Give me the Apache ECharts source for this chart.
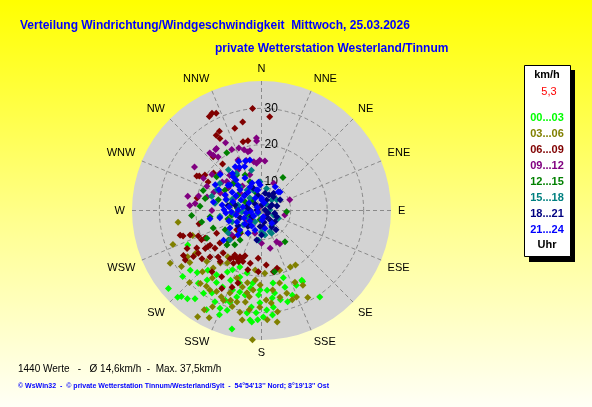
<!DOCTYPE html>
<html lang="de">
<head>
<meta charset="UTF-8">
<title>Verteilung Windrichtung/Windgeschwindigkeit</title>
<script src="https://cdn.jsdelivr.net/npm/echarts@6/dist/echarts.min.js"></script>
<style>
  html, body { margin: 0; padding: 0; }
  #chart { width: 592px; height: 407px; }
</style>
</head>
<body>
<div id="chart"></div>
<script>
// Himmelsrichtungen (Winkelachse) und Ringe (km/h)
var directions = ['N', 'NNE', 'NE', 'ENE', 'E', 'ESE', 'SE', 'SSE', 'S', 'SSW', 'SW', 'WSW', 'W', 'WNW', 'NW', 'NNW'];
var speedTicks = [10, 20, 30];
var hourLabels = ['00...03', '03...06', '06...09', '09...12', '12...15', '15...18', '18...21', '21...24'];

// Messwerte je 3-Stunden-Block: [Geschwindigkeit km/h, Richtung Grad]
var h00 = [[24.3,245],[35.3,230],[35.1,224],[34.2,223],[33.6,220],[32.3,217],[30.2,230],[27.5,230],[26.5,226],[28.4,221],[26.2,218],[29.7,215],[33.1,209],[28.4,211],[30.1,207],[31.1,203],[28.5,202],[22.9,204],[20.1,206],[18.6,201],[19.6,193],[22.7,197],[26.7,196],[28.6,199],[30.9,199],[32.8,202],[35.5,194],[32.2,186],[30.1,183],[28.6,186],[27.3,181],[29.3,177],[28.7,173],[27,168],[24.9,171],[23.9,176],[23.8,181],[22.1,187],[22.1,171],[24,163],[26.7,160],[24.6,155],[24.1,150],[28,164],[30.8,174],[31.2,179],[30.6,146],[23.5,188],[25.6,191],[25.5,207],[25.3,212],[25.2,200],[23.5,215],[24,222],[25.1,195],[25.2,182],[26.2,173],[32,182],[30.4,188],[21.4,162],[21.2,198],[21.3,209],[24.5,150],[32.7,185]];
var h03 = [[28,249],[22.1,250],[30.9,240],[28.8,235],[25.9,238],[26.3,234],[23.6,237],[22.5,227],[25.3,224],[28.1,220],[24.9,216],[22.6,220],[20.3,218],[19.2,213],[17.7,216],[28,213],[27.7,216],[27.4,209],[28.1,205],[33.4,210],[36,211],[31.6,207],[26.2,201],[29.5,197],[28,195],[30.5,192],[27.5,190],[24.9,190],[25.9,188],[23.9,186],[22.2,191],[21.1,185],[22.4,181],[18.4,186],[19.2,177],[26.6,177],[27.5,174],[30.1,171],[32,177],[28.5,181],[32.9,172],[26.3,168],[25.7,163],[27.9,161],[27.6,158],[29,152],[23.7,155],[25.4,151],[19.4,153],[19.6,148],[19.1,163],[22.5,166],[24,172],[29.4,187],[32.5,190],[37.5,184],[29.9,225],[25.1,262],[28,199],[28.7,203],[23.6,194],[21.7,200],[34.7,206]];
var h06 = [[30.1,355],[27.8,5],[31.9,333],[31.4,335],[31.5,331],[26.8,348],[25.7,342],[26.6,332],[26.1,329],[24.8,330],[21.5,345],[21.5,349],[21.8,318],[18.6,320],[22.1,298],[21.5,299],[20.3,302],[18.7,308],[18.6,298],[20,281],[19.5,258],[25.3,253],[24.6,252],[20.7,248],[20.3,244],[19,236],[18.4,231],[20.6,236],[22.5,240],[24.9,243],[26.7,240],[24.5,236],[22.9,236],[23,231],[21,228],[19.4,223],[17.7,222],[20,219],[16.9,211],[16.8,207],[16,205],[17.4,204],[16.9,200],[18.4,208],[16.8,192],[15.1,184],[17,175],[18.7,193],[18.8,183],[19.1,169],[18.4,165],[23.6,219],[23.2,211],[22.9,198],[24.5,201],[26,207],[22.7,251],[26.9,237],[16.5,232],[14.2,228],[12.6,227],[10.5,223],[15.8,243],[10.6,232],[5.7,226],[19.2,244],[19.7,236],[16.2,211],[16.1,202],[17.8,213],[15.2,200]];
var h09 = [[21.9,356],[21.1,356],[18.7,349],[19.3,344],[20.2,340],[20.6,334],[23,332],[23,324],[22.9,323],[23.2,318],[20.9,321],[17.3,335],[16.3,343],[15.8,358],[15.6,4],[15,354],[23.9,303],[18.8,306],[17.3,312],[20.2,299],[18.4,294],[22.6,281],[21.7,274],[20.3,276],[19.7,283],[10.3,69],[10.2,24],[15,318],[14.8,330],[22.1,319],[18.5,347],[15.5,351],[15.2,331],[14.7,320],[12.3,342],[3.9,151],[8.5,101],[12.6,167],[12.4,151],[8.5,196],[15.6,270],[14.4,310],[9.6,309],[14.3,293],[8.8,264],[6.8,237],[11.5,154],[11,180],[12.6,231],[3.2,338],[17.4,284],[13,304],[12.8,314],[12.8,293],[10.1,295],[10.5,322],[10.7,280],[15.3,306],[16,291]];
var h12 = [[12.8,33],[20.5,329],[17.8,282],[21.2,266],[16.2,263],[16.1,250],[12,216],[14.2,228],[12.7,143],[8.9,93],[18.9,289],[18.9,274],[17.4,307],[18.8,243],[13.9,218],[19.2,168],[15.4,225],[18.7,259],[13.3,242],[10.3,225],[10.3,261],[13.5,299],[14.2,284],[10.7,280],[7.1,298],[10.5,338],[12.7,335],[12.7,314],[4.6,189],[13.9,325],[7.4,341],[9.7,303],[5.9,252],[8.7,276],[5.8,318],[11.5,256]];
var h15 = [[3.2,229],[4.3,87],[7.1,55],[8.8,156],[8.8,172],[10.2,186],[6.2,239],[8.2,13],[9.9,357],[13.4,346],[14.3,326],[16.4,321],[15.6,303],[16.2,286],[10.8,318],[12,287],[9.8,264],[8.4,232],[7.1,115],[14.9,279],[13.5,262],[6.9,145],[7.9,180],[15.5,295],[5.5,111],[13.8,227],[9.2,210],[8.2,158],[13,236],[6,44],[8.6,283],[6.7,317],[10.6,249],[6.3,279],[8,338],[7.4,266],[5.6,210],[4.2,35],[10.6,291],[8.9,325]];
var h18 = [[7.8,35],[5.2,26],[5.2,62],[3,82],[5.7,102],[5.5,138],[7.3,148],[6.4,185],[8.7,180],[10.2,189],[7.1,218],[5.2,238],[6.2,284],[3.3,276],[6.8,12],[8.5,340],[7,41],[4.2,140],[6.8,130],[6.5,174],[7.9,60],[4.6,66],[9.4,282],[8.2,313],[5.2,273],[8.2,251],[11.3,278],[9.7,237],[6.3,347],[6.5,112],[3.5,5],[3.9,111],[6.4,74],[5.3,168],[8.6,143],[4.5,315],[7.7,221],[6.7,26]];
var h21 = [[16.3,342],[16.2,347],[15.3,333],[14.9,322],[9.8,354],[8.9,42],[4.9,1],[14.9,339],[16,329],[16.8,335],[17,311],[16.5,299],[15.4,280],[16.3,261],[15.2,232],[7.7,198],[7,169],[3.8,164],[6.5,141],[9.2,45],[9.5,30],[7.8,347],[5.4,1],[13.5,307],[12.9,320],[12,333],[10,341],[7.7,350],[11.5,302],[10.2,314],[8.2,324],[5.8,333],[12.2,287],[10.2,287],[8.3,297],[6,301],[3.5,308],[12.3,271],[10.3,267],[8.4,271],[6.3,261],[4.6,234],[11.4,252],[9.4,245],[7.9,231],[7,212],[10,228],[9.2,211],[15,296],[13.6,260],[4.6,177],[12.8,293],[13.1,309],[11.5,317],[9.2,334],[8.2,310],[10.1,300],[10.9,276],[9.1,260],[7.2,281],[4.9,262],[7.2,247],[11.9,241],[11.3,224],[6.3,228],[3.1,247],[14.1,320],[12.9,278],[11.8,266],[9,357],[4.2,18]];

var calmValue = '5,3';
var summary = '1440 Werte   -   \u00d8 14,6km/h  -  Max. 37,5km/h';
var credits = '\u00a9 WsWin32  -  \u00a9 private Wetterstation Tinnum/Westerland/Sylt  -  54\u00b054\'13\'\' Nord; 8\u00b019\'13\'\' Ost';

var blocks = [h00, h03, h06, h09, h12, h15, h18, h21];
var blockColors = ['#00ff00', '#808000', '#800000', '#800080', '#008000', '#008080', '#000080', '#0000ff'];

var series = blocks.map(function (d, i) {
    return {
        name: hourLabels[i],
        type: 'scatter',
        coordinateSystem: 'polar',
        polarIndex: 1,
        symbol: 'diamond',
        symbolSize: 7,
        z: 3,
        itemStyle: { color: blockColors[i], opacity: 1 },
        emphasis: { disabled: true },
        data: d
    };
});

// Legende rechts (Kasten mit Schatten)
var legendItems = [
    { type: 'rect', shape: { x: 529, y: 70, width: 46, height: 192 }, style: { fill: '#000' } },
    { type: 'rect', shape: { x: 524.5, y: 65.5, width: 46, height: 191 }, style: { fill: '#fff', stroke: '#000', lineWidth: 1 } },
    { type: 'text', x: 547, y: 75, style: { text: 'km/h', fill: '#000', font: 'bold 11px "Liberation Sans"', align: 'center', verticalAlign: 'middle' } },
    { type: 'text', x: 549, y: 92, style: { text: calmValue, fill: '#ff0000', font: '11px "Liberation Sans"', align: 'center', verticalAlign: 'middle' } },
    { type: 'text', x: 547, y: 245, style: { text: 'Uhr', fill: '#000', font: 'bold 11px "Liberation Sans"', align: 'center', verticalAlign: 'middle' } }
];
hourLabels.forEach(function (lab, i) {
    legendItems.push({
        type: 'text', x: 547, y: 118 + i * 16,
        style: { text: lab, fill: blockColors[i], font: 'bold 11px "Liberation Sans"', align: 'center', verticalAlign: 'middle' }
    });
});

var texts = [
    { type: 'text', x: 20, y: 26, style: { text: 'Verteilung Windrichtung/Windgeschwindigkeit  Mittwoch, 25.03.2026', fill: '#0000ff', font: 'bold 12px "Liberation Sans"', verticalAlign: 'middle' } },
    { type: 'text', x: 215, y: 49, style: { text: 'private Wetterstation Westerland/Tinnum', fill: '#0000ff', font: 'bold 12px "Liberation Sans"', verticalAlign: 'middle' } },
    { type: 'text', x: 18, y: 369, style: { text: summary, fill: '#000', font: '10px "Liberation Sans"', verticalAlign: 'middle' } },
    { type: 'text', x: 18, y: 386, style: { text: credits, fill: '#0000ff', font: 'bold 7px "Liberation Sans"', verticalAlign: 'middle' } }
];

var gridLine = { color: '#8a8a8a', width: 1, type: [4, 3] };

var chart = echarts.init(document.getElementById('chart'));
chart.setOption({
    animation: false,
    backgroundColor: {
        type: 'linear', x: 0, y: 0, x2: 0, y2: 1,
        colorStops: [{ offset: 0, color: '#ffff00' }, { offset: 0.55, color: '#ffff90' }, { offset: 1, color: '#fffff6' }]
    },
    // Polar 0: nur graue Scheibe, Polar 1: Gitter, Beschriftung, Punkte
    polar: [
        { center: [261.5, 210.5], radius: 129.5 },
        { center: [261.5, 210.5], radius: 129.5 }
    ],
    angleAxis: [{
        polarIndex: 0, z: -1,
        type: 'value', min: 0, max: 360, interval: 90,
        axisLine: { show: false }, axisTick: { show: false }, axisLabel: { show: false },
        splitLine: { show: false },
        splitArea: { show: true, areaStyle: { color: ['#d3d3d3'] } }
    }, {
        polarIndex: 1, z: 1,
        type: 'value', min: 0, max: 360, interval: 22.5,
        startAngle: 90, clockwise: true,
        axisLine: { show: false },
        axisTick: { show: false },
        axisLabel: {
            margin: 7, color: '#000', fontSize: 11, fontFamily: 'Liberation Sans',
            formatter: function (v) { return v >= 360 ? '' : directions[Math.round(v / 22.5)]; }
        },
        splitLine: { show: true, lineStyle: gridLine }
    }],
    radiusAxis: [{
        polarIndex: 0, z: -1,
        min: 0, max: 1,
        axisLine: { show: false }, axisTick: { show: false }, axisLabel: { show: false },
        splitLine: { show: false }
    }, {
        polarIndex: 1, z: 1,
        min: 2, max: 37.5, splitNumber: 4, minInterval: 10, maxInterval: 10,
        axisLine: { show: false },
        axisTick: { show: false },
        axisLabel: {
            color: '#000', fontSize: 12, fontFamily: 'Liberation Sans',
            margin: -3, align: 'left', verticalAlign: 'middle',
            formatter: function (v) { return speedTicks.indexOf(v) >= 0 ? String(v) : ''; }
        },
        splitLine: {
            show: true,
            lineStyle: { color: ['#8a8a8a', '#8a8a8a', '#8a8a8a', '#8a8a8a', 'rgba(0,0,0,0)'], width: 1, type: [4, 3] }
        }
    }],
    graphic: texts.concat(legendItems),
    series: series
});
</script>
</body>
</html>
